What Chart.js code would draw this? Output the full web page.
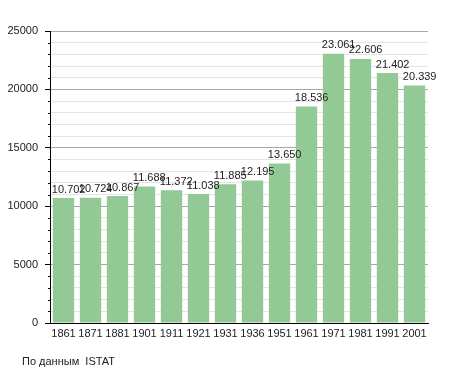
<!DOCTYPE html>
<html>
<head>
<meta charset="utf-8">
<script src="https://cdn.jsdelivr.net/npm/chart.js@4/dist/chart.umd.min.js"></script>
<style>
  html, body { margin: 0; padding: 0; background: #fff; }
  #wrap { width: 455px; height: 373px; }
</style>
</head>
<body>
<div id="wrap"><canvas id="popChart" width="455" height="373"></canvas></div>
<script>
var years = ['1861', '1871', '1881', '1901', '1911', '1921', '1931', '1936', '1951', '1961', '1971', '1981', '1991', '2001'];
var population = [10702, 10724, 10867, 11688, 11372, 11038, 11885, 12195, 13650, 18536, 23061, 22606, 21402, 20339];
var sourceNote = 'По данным  ISTAT';

var barColor = '#93c995';
var fontFamily = '"Liberation Sans", Arial, sans-serif';

function fmt(n) {
  // thousands separator is a dot, as in the original
  return String(n).replace(/\B(?=(\d{3})+(?!\d))/g, '.');
}

// value labels above bars, left edge lined up with the bar
var valueLabels = {
  id: 'valueLabels',
  afterDatasetsDraw: function(chart) {
    var ctx = chart.ctx;
    var meta = chart.getDatasetMeta(0);
    ctx.save();
    ctx.font = '11px ' + fontFamily;
    ctx.fillStyle = '#222';
    ctx.textAlign = 'left';
    ctx.textBaseline = 'bottom';
    meta.data.forEach(function(bar, i) {
      ctx.fillText(fmt(population[i]), bar.x - bar.width / 2 - 1, bar.y - 3);
    });
    ctx.restore();
  }
};

// short minor tick marks on the y axis + source note
var extras = {
  id: 'extras',
  afterDraw: function(chart) {
    var ctx = chart.ctx;
    var y = chart.scales.y;
    ctx.save();
    ctx.strokeStyle = '#000';
    ctx.lineWidth = 1;
    for (var v = 0; v <= 25000; v += 1000) {
      if (v % 5000 === 0) continue;
      var py = Math.round(y.getPixelForValue(v)) + 0.5;
      ctx.beginPath();
      ctx.moveTo(y.right - 2, py);
      ctx.lineTo(y.right + 1, py);
      ctx.stroke();
    }
    ctx.font = '11px ' + fontFamily;
    ctx.fillStyle = '#222';
    ctx.textAlign = 'left';
    ctx.textBaseline = 'middle';
    ctx.fillText(sourceNote, 22, 362);
    ctx.restore();
  }
};

var popChart = new Chart(document.getElementById('popChart'), {
  type: 'bar',
  data: {
    labels: years,
    datasets: [{
      data: population,
      backgroundColor: barColor,
      borderWidth: 0,
      barPercentage: 0.79,
      categoryPercentage: 1.0
    }]
  },
  options: {
    responsive: false,
    animation: false,
    layout: {
      padding: { left: 0, right: 27, top: 31, bottom: 30 }
    },
    plugins: {
      legend: { display: false },
      tooltip: { enabled: false }
    },
    scales: {
      x: {
        grid: { display: false, drawTicks: false },
        border: { display: true, color: '#000', width: 1 },
        ticks: {
          color: '#222',
          font: { family: fontFamily, size: 11 },
          padding: 4,
          maxRotation: 0,
          autoSkip: false
        },
        afterFit: function(scale) { scale.height = 20; }
      },
      y: {
        min: 0,
        max: 25000,
        grid: {
          color: function(c) { return c.tick.value % 5000 === 0 ? '#a8a8a8' : '#e4e4e4'; },
          tickColor: function(c) { return c.tick.value % 5000 === 0 ? '#000' : 'rgba(0,0,0,0)'; },
          tickLength: 5
        },
        border: { display: true, color: '#000', width: 1 },
        ticks: {
          stepSize: 1000,
          autoSkip: false,
          color: '#222',
          font: { family: fontFamily, size: 11 },
          padding: 7,
          callback: function(value) { return value % 5000 === 0 ? String(value) : ''; }
        },
        afterFit: function(scale) { scale.width = 50; }
      }
    }
  },
  plugins: [valueLabels, extras]
});
</script>
</body>
</html>
